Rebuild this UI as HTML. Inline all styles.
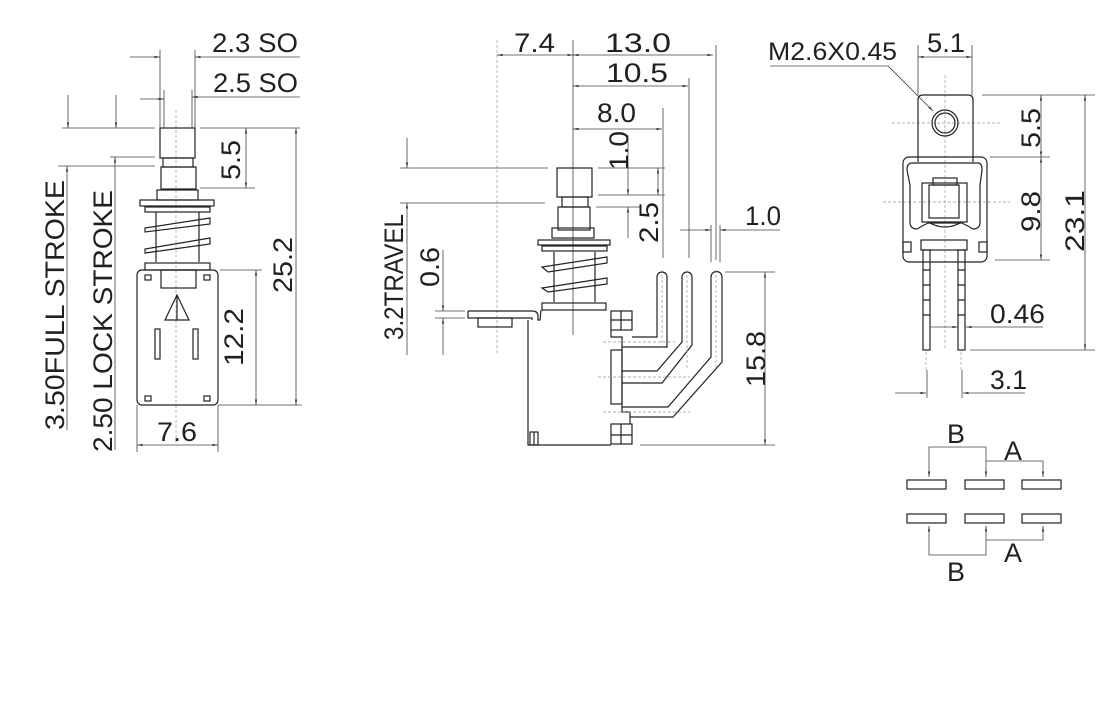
<!DOCTYPE html>
<html><head><meta charset="utf-8"><style>
html,body{margin:0;padding:0;background:#fff;}
svg{display:block;}
text{font-family:"Liberation Sans",Arial,sans-serif;fill:#231f20;font-size:27px;}
.l{stroke:#222;stroke-width:1.2;fill:none;}
.t{stroke:#444;stroke-width:0.8;fill:none;}
.c{stroke:#999;stroke-width:0.7;fill:none;stroke-dasharray:3 2;}
</style></head><body>
<svg width="1120" height="722" viewBox="0 0 1120 722" xmlns="http://www.w3.org/2000/svg">
<defs>
<marker id="a" viewBox="0 0 10 10" refX="10" refY="5" markerWidth="7" markerHeight="7" orient="auto-start-reverse"><path d="M0,3 L10,5 L0,7z" fill="#333"/></marker>
</defs>

<!-- ===== LEFT VIEW ===== -->
<g>
<line class="c" x1="176" y1="110" x2="176" y2="445"/>
<rect class="l" x="160" y="128" width="35" height="30"/>
<rect class="l" x="163" y="158" width="30" height="9"/>
<rect class="l" x="161" y="167" width="35" height="22"/>
<rect class="l" x="157" y="190" width="41" height="10"/>
<rect class="l" x="140" y="200" width="74" height="6"/>
<rect class="l" x="145" y="207" width="65" height="5"/>
<line class="l" x1="156" y1="212" x2="156" y2="262"/>
<line class="l" x1="199" y1="212" x2="199" y2="262"/>
<path class="l" d="M210,218 L145,228 L145,232 L210,224z M210,238 L145,249 L145,253 L210,244z"/>
<rect class="l" x="145" y="263" width="65" height="7"/>
<rect class="l" x="137" y="270" width="81" height="135" rx="5"/>
<rect class="l" x="161" y="270" width="35" height="18"/>
<path class="l" d="M177,295 L165,320 L189,320z M177,295 V320"/>
<rect class="l" x="155" y="329" width="5" height="30"/>
<rect class="l" x="193" y="329" width="5" height="30"/>
<rect class="l" x="145" y="275" width="6" height="5"/><rect class="l" x="204" y="275" width="6" height="5"/>
<rect class="l" x="145" y="396" width="6" height="5"/><rect class="l" x="204" y="396" width="6" height="5"/>
<!-- dims -->
<line class="t" x1="160" y1="50" x2="160" y2="128"/>
<line class="t" x1="195" y1="50" x2="195" y2="128"/>
<line class="t" x1="130" y1="57" x2="160" y2="57" marker-end="url(#a)"/>
<line class="t" x1="300" y1="57" x2="195" y2="57" marker-end="url(#a)"/>
<text x="212" y="52" textLength="86" lengthAdjust="spacingAndGlyphs">2.3 SO</text>
<line class="t" x1="164" y1="90" x2="164" y2="128"/>
<line class="t" x1="192" y1="90" x2="192" y2="128"/>
<line class="t" x1="140" y1="99" x2="164" y2="99" marker-end="url(#a)"/>
<line class="t" x1="300" y1="97" x2="192" y2="97" marker-end="url(#a)"/>
<text x="213" y="92" textLength="85" lengthAdjust="spacingAndGlyphs">2.5 SO</text>
<line class="t" x1="62" y1="128" x2="155" y2="128"/>
<line class="t" x1="68" y1="95" x2="68" y2="128" marker-end="url(#a)"/>
<line class="t" x1="116" y1="95" x2="116" y2="128" marker-end="url(#a)"/>
<line class="t" x1="110" y1="157" x2="155" y2="157"/>
<line class="t" x1="58" y1="166" x2="155" y2="166"/>
<line class="t" x1="67" y1="430" x2="67" y2="166" marker-end="url(#a)"/>
<line class="t" x1="115" y1="450" x2="115" y2="157" marker-end="url(#a)"/>
<text transform="translate(64,430) rotate(-90)" textLength="250" lengthAdjust="spacingAndGlyphs">3.50FULL  STROKE</text>
<text transform="translate(112,452) rotate(-90)" textLength="262" lengthAdjust="spacingAndGlyphs">2.50 LOCK  STROKE</text>
<line class="t" x1="200" y1="128" x2="300" y2="128"/>
<line class="t" x1="200" y1="188" x2="255" y2="188"/>
<line class="t" x1="246" y1="128" x2="246" y2="188" marker-start="url(#a)" marker-end="url(#a)"/>
<text transform="translate(240,180) rotate(-90)" textLength="40" lengthAdjust="spacingAndGlyphs">5.5</text>
<line class="t" x1="220" y1="270" x2="262" y2="270"/>
<line class="t" x1="218" y1="405" x2="302" y2="405"/>
<line class="t" x1="256" y1="270" x2="256" y2="405" marker-start="url(#a)" marker-end="url(#a)"/>
<text transform="translate(243,366) rotate(-90)" textLength="58" lengthAdjust="spacingAndGlyphs">12.2</text>
<line class="t" x1="296" y1="128" x2="296" y2="405" marker-start="url(#a)" marker-end="url(#a)"/>
<text transform="translate(292,293) rotate(-90)" textLength="56" lengthAdjust="spacingAndGlyphs">25.2</text>
<line class="t" x1="137" y1="405" x2="137" y2="452"/>
<line class="t" x1="218" y1="405" x2="218" y2="452"/>
<line class="t" x1="137" y1="445" x2="218" y2="445" marker-start="url(#a)" marker-end="url(#a)"/>
<text x="157" y="441" textLength="40" lengthAdjust="spacingAndGlyphs">7.6</text>
</g>

<!-- ===== MIDDLE VIEW ===== -->
<g>
<line class="c" x1="497" y1="40" x2="497" y2="355"/>
<line class="t" x1="573" y1="40" x2="573" y2="335"/>
<line class="t" x1="497" y1="55" x2="573" y2="55" marker-start="url(#a)" marker-end="url(#a)"/>
<line class="t" x1="573" y1="55" x2="713" y2="55" marker-start="url(#a)" marker-end="url(#a)"/>
<line class="t" x1="716" y1="45" x2="716" y2="260"/>
<text x="514" y="52" textLength="41" lengthAdjust="spacingAndGlyphs">7.4</text>
<text x="605" y="52" textLength="66" lengthAdjust="spacingAndGlyphs">13.0</text>
<line class="t" x1="573" y1="86" x2="688" y2="86" marker-start="url(#a)" marker-end="url(#a)"/>
<line class="t" x1="689" y1="78" x2="689" y2="258"/>
<text x="606" y="82" textLength="62" lengthAdjust="spacingAndGlyphs">10.5</text>
<line class="t" x1="573" y1="129" x2="662" y2="129" marker-start="url(#a)" marker-end="url(#a)"/>
<line class="t" x1="663" y1="108" x2="663" y2="258"/>
<text x="597" y="122" textLength="39" lengthAdjust="spacingAndGlyphs">8.0</text>
<line class="t" x1="598" y1="168" x2="665" y2="168"/>
<line class="t" x1="598" y1="195" x2="665" y2="195"/>
<line class="t" x1="628" y1="135" x2="628" y2="195" marker-end="url(#a)"/>
<line class="t" x1="658" y1="168" x2="658" y2="195" marker-start="url(#a)" marker-end="url(#a)"/>
<text transform="translate(628,170) rotate(-90)" textLength="39" lengthAdjust="spacingAndGlyphs">1.0</text>
<line class="t" x1="596" y1="207" x2="640" y2="207"/>
<line class="t" x1="628" y1="207" x2="628" y2="238" marker-start="url(#a)"/>
<text transform="translate(658,243) rotate(-90)" textLength="41" lengthAdjust="spacingAndGlyphs">2.5</text>
<line class="t" x1="711" y1="225" x2="711" y2="262"/>
<line class="t" x1="720" y1="225" x2="720" y2="262"/>
<line class="t" x1="680" y1="230" x2="711" y2="230" marker-end="url(#a)"/>
<line class="t" x1="780" y1="230" x2="720" y2="230" marker-end="url(#a)"/>
<text x="745" y="225" textLength="36" lengthAdjust="spacingAndGlyphs">1.0</text>
<!-- travel -->
<line class="t" x1="400" y1="168" x2="548" y2="168"/>
<line class="t" x1="400" y1="203" x2="545" y2="203"/>
<line class="t" x1="407" y1="138" x2="407" y2="168" marker-end="url(#a)"/>
<line class="t" x1="407" y1="355" x2="407" y2="203" marker-end="url(#a)"/>
<text transform="translate(403,340) rotate(-90)" textLength="126" lengthAdjust="spacingAndGlyphs">3.2TRAVEL</text>
<line class="t" x1="435" y1="311" x2="465" y2="311"/>
<line class="t" x1="435" y1="318" x2="465" y2="318"/>
<line class="t" x1="443" y1="250" x2="443" y2="311" marker-end="url(#a)"/>
<line class="t" x1="443" y1="355" x2="443" y2="318" marker-end="url(#a)"/>
<text transform="translate(439,287) rotate(-90)" textLength="40" lengthAdjust="spacingAndGlyphs">0.6</text>
<!-- button -->
<rect class="l" x="557" y="168" width="35" height="29"/>
<rect class="l" x="562" y="197" width="26" height="10"/>
<rect class="l" x="558" y="207" width="32" height="23"/>
<rect class="l" x="552" y="228" width="42" height="10"/>
<rect class="l" x="538" y="240" width="72" height="5"/>
<rect class="l" x="542" y="246" width="65" height="5"/>
<line class="l" x1="554" y1="252" x2="554" y2="302"/>
<line class="l" x1="595" y1="252" x2="595" y2="302"/>
<path class="l" d="M607,257 L542,267 L548,272 L607,263z M607,278 L542,288 L548,292 L607,284z"/>
<rect class="l" x="542" y="303" width="64" height="7"/>
<path class="l" d="M468,311 H532 Q538,311 538,316 V320 H540 L541,310 M468,311 V318 H532 V320"/>
<rect class="l" x="478" y="318" width="34" height="9"/>
<path class="l" d="M528,320 V445 H611"/>
<rect class="l" x="530" y="432" width="8" height="13"/>
<line class="l" x1="534" y1="432" x2="534" y2="445"/>
<!-- right blocks -->
<rect class="l" x="611" y="311" width="21" height="19"/><line class="l" x1="621" y1="311" x2="621" y2="330"/><line class="l" x1="611" y1="320" x2="632" y2="320"/>
<path class="l" d="M611,330 V337 H622 V412 H630 V424"/>
<rect class="l" x="611" y="350" width="11" height="54"/>
<rect class="l" x="611" y="424" width="21" height="20"/><line class="l" x1="621" y1="424" x2="621" y2="444"/><line class="l" x1="611" y1="435" x2="632" y2="435"/>
<line class="c" x1="603" y1="342" x2="675" y2="342"/>
<line class="c" x1="598" y1="377" x2="690" y2="377"/>
<line class="c" x1="603" y1="412" x2="690" y2="412"/>
<!-- pins -->
<path class="l" d="M632,337 H657 V277 A5,5 0 0 1 667,277 V347 H622"/>
<path class="l" d="M622,371 H657 L682,342 V277 A5,5 0 0 1 692,277 V345 L662,383 H622"/>
<path class="l" d="M622,407 H668 L711,357 V277 A5.5,5.5 0 0 1 722,277 V362 L673,417 H630"/>
<line class="c" x1="662" y1="270" x2="662" y2="350"/>
<line class="c" x1="687" y1="270" x2="687" y2="370"/>
<line class="c" x1="716" y1="270" x2="716" y2="370"/>
<line class="t" x1="725" y1="272" x2="775" y2="272"/>
<line class="t" x1="640" y1="445" x2="775" y2="445"/>
<line class="t" x1="765" y1="272" x2="765" y2="445" marker-start="url(#a)" marker-end="url(#a)"/>
<text transform="translate(765,387) rotate(-90)" textLength="56" lengthAdjust="spacingAndGlyphs">15.8</text>
</g>

<!-- ===== RIGHT VIEW ===== -->
<g>
<line class="c" x1="945" y1="75" x2="945" y2="350"/>
<line class="c" x1="892" y1="123" x2="1000" y2="123"/>
<line class="c" x1="883" y1="202" x2="1010" y2="202"/>
<path class="l" d="M918,162 V100 Q918,95 923,95 H968 Q973,95 973,100 V162"/>
<circle class="l" cx="945" cy="123" r="13"/>
<circle class="l" cx="945" cy="123" r="10"/>
<rect class="l" x="903" y="157" width="84" height="105" rx="6"/>
<path class="l" d="M912,163 H978 Q982,163 982,170 L980,185 V222 Q980,229 973,229 Q968,226 962,223 H928 Q922,226 917,229 Q910,229 910,222 V185 L907,170 Q907,163 912,163z"/>
<rect class="l" x="922" y="183" width="45" height="39"/>
<rect class="l" x="929" y="185" width="30" height="33"/>
<rect class="l" x="933" y="178" width="24" height="7"/>
<path class="l" d="M928,222 Q945,232 962,222"/>
<rect class="l" x="921" y="240" width="46" height="10"/>
<rect class="l" x="903" y="242" width="8" height="10"/><rect class="l" x="979" y="242" width="8" height="10"/>
<rect class="l" x="923" y="250" width="7" height="100"/>
<rect class="l" x="958" y="250" width="7" height="100"/>
<path class="l" d="M923,270 H930 M923,285 H930 M923,300 H930 M923,315 H930 M958,270 H965 M958,285 H965 M958,300 H965 M958,315 H965"/>
<!-- dims -->
<text x="768" y="60" style="font-size:25px" textLength="129" lengthAdjust="spacingAndGlyphs">M2.6X0.45</text>
<path class="t" d="M770,66 H888 L933,111" marker-end="url(#a)"/>
<line class="t" x1="918" y1="45" x2="918" y2="95"/>
<line class="t" x1="972" y1="45" x2="972" y2="95"/>
<line class="t" x1="918" y1="57" x2="972" y2="57" marker-start="url(#a)" marker-end="url(#a)"/>
<text x="927" y="52" textLength="38" lengthAdjust="spacingAndGlyphs">5.1</text>
<line class="t" x1="982" y1="95" x2="1095" y2="95"/>
<line class="t" x1="990" y1="157" x2="1050" y2="157"/>
<line class="t" x1="995" y1="260" x2="1050" y2="260"/>
<line class="t" x1="970" y1="350" x2="1095" y2="350"/>
<line class="t" x1="1041" y1="95" x2="1041" y2="157" marker-start="url(#a)" marker-end="url(#a)"/>
<line class="t" x1="1041" y1="157" x2="1041" y2="260" marker-start="url(#a)" marker-end="url(#a)"/>
<line class="t" x1="1085" y1="95" x2="1085" y2="350" marker-start="url(#a)" marker-end="url(#a)"/>
<text transform="translate(1040,148) rotate(-90)" textLength="40" lengthAdjust="spacingAndGlyphs">5.5</text>
<text transform="translate(1040,232) rotate(-90)" textLength="41" lengthAdjust="spacingAndGlyphs">9.8</text>
<text transform="translate(1084,252) rotate(-90)" textLength="62" lengthAdjust="spacingAndGlyphs">23.1</text>
<line class="t" x1="930" y1="327" x2="958" y2="327" marker-end="url(#a)"/>
<line class="t" x1="1043" y1="327" x2="966" y2="327" marker-end="url(#a)"/>
<text x="990" y="323" textLength="55" lengthAdjust="spacingAndGlyphs">0.46</text>
<line class="c" x1="926" y1="352" x2="926" y2="370"/>
<line class="c" x1="961" y1="352" x2="961" y2="370"/>
<line class="t" x1="927" y1="370" x2="927" y2="398"/>
<line class="t" x1="962" y1="370" x2="962" y2="398"/>
<line class="t" x1="895" y1="393" x2="926" y2="393" marker-end="url(#a)"/>
<line class="t" x1="1025" y1="393" x2="963" y2="393" marker-end="url(#a)"/>
<text x="990" y="389" textLength="37" lengthAdjust="spacingAndGlyphs">3.1</text>
<!-- schematic -->
<rect class="l" x="907" y="480" width="39" height="9"/>
<rect class="l" x="965" y="480" width="39" height="9"/>
<rect class="l" x="1022" y="480" width="39" height="9"/>
<rect class="l" x="907" y="514" width="39" height="9"/>
<rect class="l" x="965" y="514" width="39" height="9"/>
<rect class="l" x="1022" y="514" width="39" height="9"/>
<path class="t" d="M929,477 V447 H986 V477" marker-start="url(#a)" marker-end="url(#a)"/>
<path class="t" d="M986,461 H1043 V477" marker-end="url(#a)"/>
<path class="t" d="M929,526 V555 H986 V526" marker-start="url(#a)" marker-end="url(#a)"/>
<path class="t" d="M986,540 H1043 V526" marker-end="url(#a)"/>
<text x="947" y="443">B</text>
<text x="1004" y="460">A</text>
<text x="1004" y="562">A</text>
<text x="947" y="581">B</text>
</g>
</svg>
</body></html>
